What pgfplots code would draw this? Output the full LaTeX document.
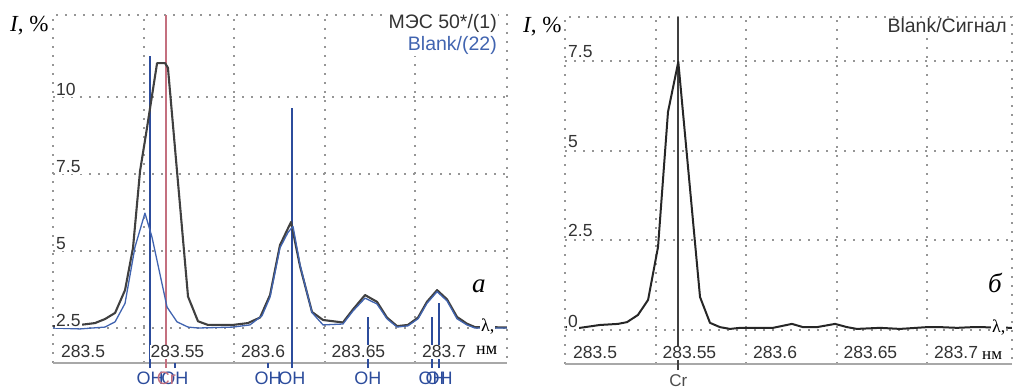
\documentclass[border=0pt]{standalone}
\usepackage{fontspec}
\setmainfont{Liberation Sans}
\newfontfamily\lserif{Liberation Serif}
\usepackage{pgfplots}
\pgfplotsset{compat=1.18}
\definecolor{gridc}{HTML}{969696}
\definecolor{curvek}{HTML}{404040}
\definecolor{curveb}{HTML}{4164B0}
\definecolor{lineb}{HTML}{2C4C9C}
\definecolor{liner}{HTML}{C4707F}
\definecolor{tickc}{HTML}{333333}
\definecolor{axc}{HTML}{A8A8A8}
\tikzset{
  tl/.style={font=\fontsize{17.5}{20}\selectfont, text=tickc, fill=white, inner sep=1pt},
  tt/.style={font=\fontsize{19.5}{22}\selectfont, fill=white, inner sep=1pt},
  sl/.style={font=\lserif\fontsize{18}{20}\selectfont, fill=white, inner sep=1pt},
  ll/.style={font=\fontsize{18}{20}\selectfont, inner sep=0pt, anchor=base},
  griddot/.style={draw=gridc, line width=2pt, dash pattern=on 2pt off 7pt, line cap=butt},
}
\pgfplotsset{
  spec/.style={scale only axis, axis line style={draw=none},
    major tick length=0pt,
    xticklabels={}, yticklabels={}, grid=major,
    major grid style={griddot}, clip=false,
    anchor=south west},
}
% x values: (lambda - 283.5 nm) in pm, i.e. 50 = 283.55 nm
\pgfplotstableread{
x y
0 2.56
14.9 2.60
23.2 2.66
28.7 2.79
34.3 2.99
39.8 3.73
44.2 5.10
48.1 7.60
51.4 8.80
57.5 11.10
61.9 11.10
63.5 10.95
74.6 3.52
80.1 2.72
85.6 2.60
99.4 2.60
107.7 2.66
114.4 2.84
119.9 3.57
125.4 5.19
131.5 5.94
136.5 4.50
143.1 3.02
149.2 2.76
160.2 2.68
165.7 3.10
172.4 3.57
179.0 3.35
184.5 2.84
190.1 2.56
196.1 2.60
201.7 2.84
206.6 3.35
212.2 3.73
217.7 3.43
223.2 2.86
228.7 2.64
233.1 2.53
250.8 2.52
}\mes
\pgfplotstableread{
x y
0 2.50
14.9 2.47
28.7 2.53
34.3 2.70
39.8 3.30
45.3 5.13
50.8 6.23
54.7 5.45
63.0 3.18
68.5 2.70
74.6 2.53
80.1 2.50
99.4 2.53
108.8 2.60
115.5 2.90
119.9 3.50
125.4 5.10
129.8 5.60
132.6 5.80
136.5 4.55
143.1 3.00
149.2 2.60
160.2 2.63
165.7 3.05
172.4 3.47
179.0 3.28
184.5 2.80
190.1 2.53
196.1 2.57
201.7 2.80
206.6 3.30
212.2 3.68
217.7 3.38
223.2 2.80
228.7 2.60
233.1 2.50
250.8 2.50
}\blankA
\pgfplotstableread{
x y
0.5 0.08
8.3 0.06
19.3 0.14
29.3 0.17
34.3 0.22
40.3 0.42
45.9 0.84
51.4 2.32
56.9 6.09
62.6 7.49
74.6 0.92
80.1 0.20
85.6 0.08
91.2 0.03
96.7 0.06
114.9 0.06
125.4 0.17
131.5 0.08
139.2 0.08
149.2 0.17
155.8 0.08
161.3 0.03
174.0 0.06
185.1 0.03
200.0 0.08
207.2 0.08
216.6 0.06
225.4 0.08
229.3 0.08
246.9 0.06
}\signal
\begin{document}
\begin{tikzpicture}
\useasboundingbox (0,0) rectangle (1013pt,388pt);
% ---------------- panel a
\begin{axis}[spec, at={(53pt,25pt)}, width=454pt, height=348pt,
  xmin=0, xmax=250.83, ymin=1.364, ymax=12.662,
  xtick={0,50,100,150,200}, ytick={2.5,5,7.5,10}]
\draw[griddot] (rel axis cs:0,0) -- (rel axis cs:0,1) -- (rel axis cs:1,1) -- (rel axis cs:1,0);
\draw[axc, line width=2pt] (rel axis cs:0,0) -- (rel axis cs:1,0);
\addplot[lineb, line width=1.8pt] coordinates {(53.6,1.2) (53.6,11.33)};
\addplot[liner, line width=1.8pt] coordinates {(62.6,1.2) (62.6,12.662)};
\addplot[lineb, line width=1.6pt] coordinates {(67.4,1.2) (67.4,1.364)};
\addplot[lineb, line width=1.6pt] coordinates {(118.8,1.2) (118.8,1.364)};
\addplot[lineb, line width=1.8pt] coordinates {(132.0,1.2) (132.0,9.64)};
\addplot[lineb, line width=1.6pt] coordinates {(174.0,1.2) (174.0,2.86)};
\addplot[lineb, line width=1.6pt] coordinates {(209.4,1.2) (209.4,2.86)};
\addplot[lineb, line width=1.6pt] coordinates {(213.3,1.2) (213.3,3.31)};
\addplot[curvek, line width=2.1pt, line join=round] table[x=x,y=y] {\mes};
\addplot[curveb, line width=1.3pt, line join=round] table[x=x,y=y] {\blankA};
% tick labels inside the plot
\node[tl, anchor=base west, xshift=7pt, yshift=5pt] at (axis cs:0,1.364) {283.5};
\node[tl, anchor=base west, xshift=6pt, yshift=5pt] at (axis cs:50,1.364) {283.55};
\node[tl, anchor=base west, xshift=6pt, yshift=5pt] at (axis cs:100,1.364) {283.6};
\node[tl, anchor=base west, xshift=6pt, yshift=5pt] at (axis cs:150,1.364) {283.65};
\node[tl, anchor=base west, xshift=6pt, yshift=5pt] at (axis cs:200,1.364) {283.7};
\node[tl, anchor=base west, xshift=2pt, yshift=1.5pt] at (axis cs:0,10) {10};
\node[tl, anchor=base west, xshift=2pt, yshift=1.5pt] at (axis cs:0,7.5) {7.5};
\node[tl, anchor=base west, xshift=2pt, yshift=1.5pt] at (axis cs:0,5) {5};
\node[tl, anchor=base west, xshift=2pt, yshift=1.5pt] at (axis cs:0,2.5) {2.5};
\node[tt, anchor=base east, text=tickc, xshift=-9pt, yshift=-14pt] at (rel axis cs:1,1) {МЭС 50*/(1)};
\node[tt, anchor=base east, text=curveb, xshift=-9pt, yshift=-36pt] at (rel axis cs:1,1) {Blank/(22)};
\node[font=\lserif\fontsize{23}{25}\selectfont, anchor=base west, inner sep=0pt, xshift=-43pt, yshift=-17pt] at (rel axis cs:0,1) {\itshape I\upshape, \%};
\node[font=\lserif\itshape\fontsize{27}{29}\selectfont, anchor=base west, inner sep=0pt, xshift=-35pt, yshift=70pt] at (rel axis cs:1,0) {а};
\node[sl, anchor=base west, xshift=-27pt, yshift=31pt] at (rel axis cs:1,0) {λ,};
\node[sl, anchor=base west, xshift=-32pt, yshift=8pt, fill=none] at (rel axis cs:1,0) {нм};
% line identifications below the axis
\node[ll, text=lineb] at (axis cs:53.6,0.65) {OH};
\node[ll, text=lineb] at (axis cs:67.4,0.65) {OH};
\node[ll, text=lineb] at (axis cs:118.8,0.65) {OH};
\node[ll, text=lineb] at (axis cs:132.0,0.65) {OH};
\node[ll, text=lineb] at (axis cs:174.0,0.65) {OH};
\node[ll, text=lineb] at (axis cs:209.4,0.65) {OH};
\node[ll, text=lineb] at (axis cs:213.3,0.65) {OH};
\node[ll, text=liner] at (axis cs:62.6,0.65) {Cr};
\end{axis}
% ---------------- panel b
\begin{axis}[spec, at={(565pt,24pt)}, width=447pt, height=347pt,
  xmin=0, xmax=246.96, ymin=-0.950, ymax=8.743,
  xtick={0,50,100,150,200}, ytick={0,2.5,5,7.5}]
\draw[griddot] (rel axis cs:0,0) -- (rel axis cs:0,1) -- (rel axis cs:1,1) -- (rel axis cs:1,0);
\draw[axc, line width=2pt] (rel axis cs:0,0) -- (rel axis cs:1,0);
\addplot[black!75, line width=2pt] coordinates {(62.6,-1.12) (62.6,8.743)};
\addplot[black!85, line width=2pt, line join=round] table[x=x,y=y] {\signal};
\node[tl, anchor=base west, xshift=7pt, yshift=5pt] at (axis cs:0,-0.95) {283.5};
\node[tl, anchor=base west, xshift=6pt, yshift=5pt] at (axis cs:50,-0.95) {283.55};
\node[tl, anchor=base west, xshift=6pt, yshift=5pt] at (axis cs:100,-0.95) {283.6};
\node[tl, anchor=base west, xshift=6pt, yshift=5pt] at (axis cs:150,-0.95) {283.65};
\node[tl, anchor=base west, xshift=6pt, yshift=5pt] at (axis cs:200,-0.95) {283.7};
\node[tl, anchor=base west, xshift=2pt, yshift=3.5pt] at (axis cs:0,7.5) {7.5};
\node[tl, anchor=base west, xshift=2pt, yshift=3.5pt] at (axis cs:0,5) {5};
\node[tl, anchor=base west, xshift=2pt, yshift=3.5pt] at (axis cs:0,2.5) {2.5};
\node[tl, anchor=base west, xshift=2pt, yshift=2pt] at (axis cs:0,0) {0};
\node[tt, anchor=base east, text=tickc, xshift=-4pt, yshift=-16pt] at (rel axis cs:1,1) {Blank/Сигнал};
\node[font=\lserif\fontsize{23}{25}\selectfont, anchor=base west, inner sep=0pt, xshift=-42pt, yshift=-16pt] at (rel axis cs:0,1) {\itshape I\upshape, \%};
\node[font=\lserif\itshape\fontsize{27}{29}\selectfont, anchor=base west, inner sep=0pt, xshift=-24pt, yshift=71pt] at (rel axis cs:1,0) {б};
\node[sl, anchor=base west, xshift=-21pt, yshift=31pt] at (rel axis cs:1,0) {λ,};
\node[sl, anchor=base west, xshift=-31pt, yshift=4pt, fill=none, font=\lserif\fontsize{17}{19}\selectfont] at (rel axis cs:1,0) {нм};
\node[ll, text=black!70, font=\fontsize{17}{19}\selectfont] at (axis cs:62.6,-1.57) {Cr};
\end{axis}
\end{tikzpicture}
\end{document}
